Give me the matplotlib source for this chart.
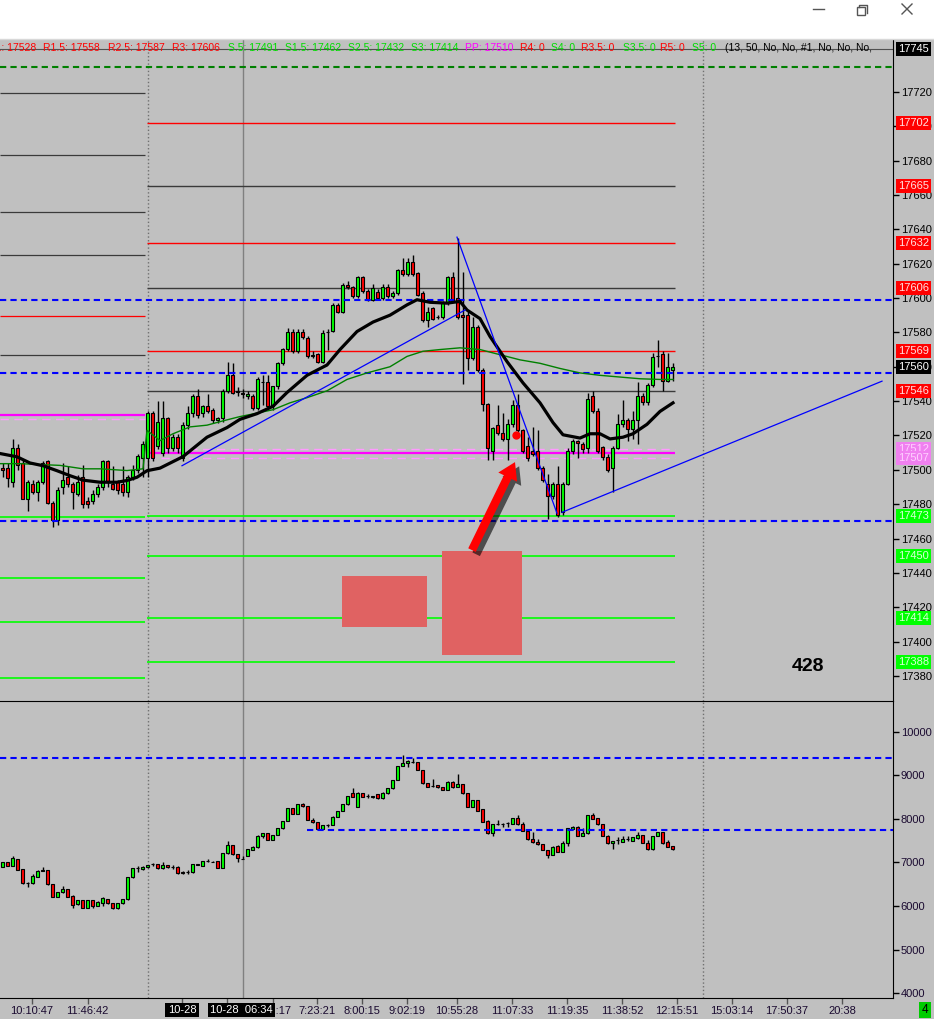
import matplotlib
matplotlib.use('Agg')
import matplotlib.pyplot as plt
from matplotlib.patches import Rectangle
from matplotlib.lines import Line2D
import matplotlib.patheffects as pe
import numpy as np

plt.rcParams['font.family'] = ['Liberation Sans', 'DejaVu Sans']

BG = '#c0c0c0'
W, H = 934, 1019

# ---- main panel candles (price) ----
m_open = [17501, 17501, 17493, 17513, 17504, 17483, 17492, 17487, 17493, 17505,
          17481, 17471, 17490, 17496, 17492, 17486, 17496, 17482, 17482, 17486,
          17490, 17505, 17492, 17493, 17492, 17487, 17496, 17500, 17507, 17507,
          17533, 17514, 17510, 17530, 17513, 17519, 17507, 17526, 17533, 17543,
          17533, 17537, 17535, 17529, 17530, 17546, 17555, 17546, 17545, 17543,
          17543, 17536, 17551, 17551, 17537, 17549, 17562, 17570.5, 17580.5, 17569,
          17580, 17577, 17567, 17567.5, 17563, 17580.5, 17581, 17596, 17592, 17607.5,
          17606.5, 17601, 17612, 17604, 17599, 17603.5, 17600, 17606.5, 17601, 17603,
          17616, 17614, 17621, 17614.5, 17603, 17587, 17594, 17589, 17589, 17597,
          17612, 17600, 17590, 17590, 17565, 17583, 17558, 17538.5, 17511, 17526,
          17521.5, 17518, 17526.5, 17537.5, 17523, 17514, 17511, 17511, 17501, 17492,
          17484.5, 17492, 17475.5, 17492, 17511, 17517, 17515, 17513, 17543, 17534.5,
          17513.5, 17507.5, 17501, 17513, 17526.5, 17529, 17523.5, 17529, 17543, 17539.5,
          17549.5, 17566.5, 17567.5, 17551.5, 17558]
m_high = [17504, 17504, 17518, 17515, 17506, 17494, 17494, 17494, 17505, 17506,
          17482, 17490, 17504, 17502, 17493, 17497, 17503, 17484, 17488, 17492,
          17506, 17506, 17502, 17494, 17502, 17497, 17503, 17509, 17517, 17534,
          17534, 17540, 17540, 17531, 17521, 17521, 17528, 17537, 17544, 17547,
          17538, 17544, 17536, 17531, 17547, 17563, 17562, 17548, 17547, 17546,
          17544, 17554, 17555, 17555, 17549, 17563, 17571, 17582.5, 17582, 17582,
          17582, 17578, 17569, 17568, 17581.5, 17582, 17597, 17597, 17609, 17610,
          17607, 17613, 17613, 17605, 17608, 17605, 17608, 17608, 17604, 17617,
          17623, 17623, 17625, 17615, 17604, 17595, 17595, 17590, 17598, 17613,
          17615, 17635, 17615, 17593, 17589, 17584, 17559, 17539, 17525, 17538,
          17533, 17529.5, 17540.5, 17544, 17524, 17519, 17525, 17523, 17502, 17497.5,
          17493, 17502.5, 17493, 17513, 17518, 17517.5, 17516, 17544.5, 17546, 17536,
          17514, 17509, 17514, 17532.5, 17540.5, 17530, 17534, 17551, 17545, 17550.5,
          17568, 17575.5, 17569, 17568, 17562]
m_low = [17496, 17490, 17490, 17500, 17483, 17476, 17486, 17482, 17492, 17480,
         17467, 17468, 17486, 17490, 17477, 17485, 17478, 17478, 17480, 17484,
         17488, 17490, 17488, 17486, 17485, 17484, 17494, 17498, 17496, 17496,
         17505, 17512, 17508, 17510, 17511, 17510, 17505, 17524, 17531, 17530,
         17531, 17533, 17527, 17527, 17528, 17545, 17544, 17543, 17542, 17541,
         17535, 17535, 17538, 17535, 17535, 17547, 17561, 17569, 17568, 17568,
         17576, 17565, 17565, 17562, 17562, 17570, 17580, 17591, 17591, 17605,
         17600, 17600, 17603, 17598, 17598, 17599, 17599, 17600, 17600, 17602,
         17613, 17613, 17613, 17601, 17586, 17583, 17587, 17588, 17588, 17596,
         17598, 17588, 17550, 17558, 17564, 17557, 17534, 17506, 17506, 17520,
         17517, 17506, 17525, 17522, 17510, 17505, 17508, 17500, 17493, 17471.5,
         17483, 17472.5, 17474, 17491, 17509, 17507, 17510, 17510, 17533, 17510,
         17506, 17499, 17487, 17512, 17525, 17517, 17518, 17515, 17538, 17538,
         17548, 17560, 17546, 17551, 17551.5]
m_close = [17500, 17495, 17513, 17503, 17483, 17493, 17487, 17493, 17504, 17481,
           17471, 17488, 17494, 17492, 17487, 17493, 17480, 17480, 17486, 17490,
           17505, 17493, 17489, 17488, 17487, 17496, 17500, 17508, 17515, 17533,
           17507, 17528, 17530, 17513, 17519, 17513, 17526, 17533, 17543, 17532,
           17537, 17534, 17529, 17530, 17546, 17555, 17545, 17545.5, 17544, 17544,
           17536, 17553, 17551, 17537, 17549, 17562, 17570.5, 17580.5, 17569, 17580.5,
           17577.5, 17566, 17566.5, 17563, 17579.5, 17580.5, 17596, 17592, 17607.5, 17606.5,
           17601, 17612, 17604, 17599, 17606, 17600, 17606.5, 17601, 17603, 17616,
           17614, 17621, 17614, 17602, 17587, 17592, 17588, 17589, 17597, 17612,
           17599, 17589, 17589, 17565, 17583, 17558, 17538.5, 17513, 17524.5, 17521.5,
           17518, 17526.5, 17537.5, 17523, 17511, 17507, 17509, 17501, 17494, 17484.5,
           17492, 17473.5, 17492, 17511, 17516.5, 17515.5, 17512, 17541.5, 17534.5, 17511,
           17507.5, 17500, 17513, 17526.5, 17529, 17523.5, 17529, 17543, 17539.5, 17549.5,
           17565.5, 17566.5, 17551.5, 17560, 17560]

# ---- lower panel candles ----
s_open = [6904, 7003, 6920, 7080, 6843, 6522, 6522, 6675, 6828, 6828,
          6499, 6216, 6315, 6392, 6239, 6040, 6140, 5964, 6140, 6010,
          6063, 6163, 6063, 5948, 6063, 6155, 6660, 6866, 6843, 6889,
          6965, 6958, 6866, 6942, 6904, 6904, 6790, 6774, 6774, 6965,
          6919, 7034, 7019, 7034, 6881, 7210, 7401, 7195, 7080, 7156,
          7286, 7347, 7615, 7669, 7516, 7631, 7784, 7952, 8242, 8112,
          8341, 8296, 7975, 7921, 7768, 7860, 7860, 8051, 8181, 8334,
          8586, 8280, 8586, 8525, 8495, 8571, 8472, 8586, 8701, 8892,
          9213, 9290, 9310, 9297, 9121, 8816, 8762, 8778, 8724, 8663,
          8854, 8739, 8800, 8586, 8280, 8433, 8219, 7952, 7669, 7875,
          7883, 7898, 7883, 8013, 7875, 7730, 7531, 7462, 7417, 7286,
          7172, 7378, 7248, 7439, 7768, 7822, 7615, 7669, 8089, 8013,
          7875, 7615, 7439, 7516, 7478, 7531, 7500, 7569, 7631, 7455,
          7302, 7608, 7692, 7462, 7378]
s_high = [7010, 7010, 7149, 7085, 6850, 6560, 6736, 6828, 6904, 6835,
          6505, 6320, 6460, 6398, 6245, 6148, 6146, 6146, 6146, 6108,
          6215, 6170, 6070, 6070, 6162, 6667, 6873, 6920, 6910, 6950,
          6995, 6964, 7019, 6948, 6942, 6910, 6796, 6828, 6971, 6971,
          7040, 7072, 7040, 7040, 7216, 7493, 7407, 7201, 7156, 7316,
          7369, 7621, 7675, 7675, 7637, 7790, 7958, 8248, 8248, 8347,
          8372, 8302, 8013, 7927, 7866, 7883, 8057, 8187, 8340, 8531,
          8701, 8607, 8592, 8570, 8531, 8577, 8607, 8707, 8898, 9219,
          9466, 9350, 9390, 9303, 9127, 8822, 8907, 8784, 8730, 8860,
          8877, 9030, 8806, 8592, 8439, 8439, 8225, 7975, 7881, 7975,
          7913, 7936, 8019, 8089, 7921, 7736, 7692, 7531, 7423, 7292,
          7369, 7401, 7493, 7789, 7828, 7828, 7784, 8095, 8127, 8019,
          7881, 7621, 7499, 7592, 7615, 7615, 7592, 7707, 7637, 7516,
          7614, 7698, 7698, 7516, 7384]
s_low = [6895, 6910, 6915, 6820, 6515, 6445, 6515, 6660, 6800, 6490,
         6210, 6210, 6310, 6210, 5964, 6035, 5958, 5958, 5950, 6005,
         6010, 6056, 5942, 5942, 6058, 6150, 6655, 6790, 6838, 6884,
         6920, 6860, 6860, 6883, 6843, 6745, 6745, 6728, 6768, 6936,
         6913, 7003, 7000, 6875, 6875, 7204, 7181, 7019, 7073, 7150,
         7280, 7341, 7554, 7510, 7510, 7625, 7778, 7946, 8106, 8106,
         8280, 7969, 7915, 7762, 7762, 7806, 7854, 8045, 8175, 8328,
         8504, 8274, 8504, 8490, 8489, 8466, 8466, 8580, 8695, 8886,
         9207, 9200, 9290, 9115, 8810, 8733, 8739, 8718, 8657, 8657,
         8718, 8733, 8580, 8274, 8274, 8175, 7930, 7663, 7615, 7860,
         7822, 7806, 7877, 7869, 7724, 7525, 7456, 7411, 7280, 7095,
         7166, 7242, 7242, 7378, 7762, 7609, 7609, 7663, 7991, 7869,
         7609, 7433, 7302, 7424, 7472, 7500, 7494, 7539, 7449, 7296,
         7296, 7602, 7433, 7357, 7296]
s_close = [7003, 6920, 7095, 6828, 6522, 6522, 6690, 6805, 6805, 6499,
           6216, 6315, 6392, 6216, 6025, 6140, 5964, 6140, 6010, 6101,
           6178, 6063, 5948, 6063, 6155, 6660, 6866, 6866, 6904, 6942,
           6965, 6866, 6942, 6889, 6904, 6751, 6751, 6774, 6965, 6942,
           7034, 7034, 7019, 6881, 7210, 7401, 7187, 7095, 7080, 7310,
           7363, 7615, 7669, 7516, 7631, 7784, 7952, 8242, 8112, 8341,
           8296, 7975, 7921, 7768, 7860, 7860, 8051, 8181, 8334, 8525,
           8510, 8601, 8510, 8525, 8525, 8472, 8601, 8701, 8892, 9213,
           9290, 9328, 9310, 9121, 8816, 8739, 8762, 8724, 8663, 8854,
           8724, 8800, 8586, 8280, 8433, 8181, 7936, 7669, 7875, 7875,
           7883, 7898, 8013, 7875, 7730, 7531, 7462, 7417, 7286, 7172,
           7363, 7248, 7439, 7783, 7822, 7615, 7669, 8089, 7997, 7875,
           7615, 7439, 7493, 7516, 7539, 7531, 7577, 7631, 7455, 7302,
           7608, 7692, 7439, 7363, 7302]

# ---- moving averages ----
ma_bars = [-0.5, 2.9, 5.5, 8.1, 10.9, 13.5, 16.1, 19.5, 22.9, 24.9, 26.9, 28.9,
           31.5, 36.1, 40.9, 44.9, 47.5, 50.9, 54.1, 56.9, 60.9, 64.9, 67.5, 70.9,
           74.1, 77.5, 80.9, 82.9, 85.5, 88.9, 91.5, 92.9, 95.5, 97.5, 100.9, 104.1,
           107.5, 110.1, 112.1, 115.5, 117.5, 119.5, 121.5, 124.1, 126.1, 128.9, 131.5, 134.1]
ma_vals = [17509.5, 17507.6, 17504, 17502.4, 17499.5, 17496.6, 17494, 17492.8, 17492.8,
           17493.8, 17495.7, 17499.5, 17501, 17507.7, 17519, 17524.6, 17529.4, 17532.7,
           17537, 17545, 17555, 17561, 17570, 17580.5, 17586, 17590, 17596, 17599,
           17597.5, 17597, 17598, 17593, 17588, 17577.6, 17563, 17550.6, 17539, 17527.5,
           17520.4, 17518.5, 17521, 17521, 17518, 17519, 17521, 17526.5, 17534, 17539]
g_bars = [-0.5, 3.5, 11.5, 16.1, 19.5, 24.9, 28.1, 28.9, 31.5, 34.1, 37.5, 40.9,
          44.1, 47.5, 50.9, 54.1, 57.5, 60.9, 64.9, 68.9, 72.9, 77.5, 80.9, 84.1,
          87.5, 91.5, 95.5, 99.5, 103.5, 107.5, 111.5, 115.5, 119.5, 123.5, 127.5, 131.5, 134.1]
g_vals = [17503.6, 17503.6, 17502.6, 17500.6, 17500.6, 17499.6, 17500.6, 17523, 17517,
          17521, 17525, 17526, 17528.5, 17531, 17533, 17535, 17539, 17542, 17546,
          17552.6, 17556.4, 17560, 17566, 17569, 17570, 17571, 17570, 17567, 17564,
          17562, 17559, 17556.4, 17555, 17554, 17553, 17552.6, 17552.6]

# ---- pivot levels ----
prev_levels = [17719, 17683, 17650, 17625, 17589.5, 17567]
prev_colors = ['#3a3a3a', '#3a3a3a', '#3a3a3a', '#3a3a3a', '#ff0000', '#3a3a3a']
prev_pp = 17532
prev_pp_band = 17529.5
prev_support = [17472.5, 17437, 17411.5, 17379]
res_levels = [17702, 17665, 17632, 17606, 17569, 17546]
res_colors = ['#ff0000', '#3a3a3a', '#ff0000', '#3a3a3a', '#ff0000', '#3a3a3a']
pp_level = 17510
pp_band = [17512, 17507]
sup_levels = [17473, 17450, 17414, 17388]
blue_dashed = [17598.8, 17556.3, 17470.2]
green_dashed = 17734.4
top_line = 17745
last_price = 17560

low_dashed_full = 9402
low_dashed_part = 7747

trend_lines = [([35.9, 92.5], [17502.4, 17593]),
               ([90.9, 110.9], [17635.4, 17474.7]),
               ([111.9, 175.9], [17475.3, 17551.6])]

boxes = [(67.9, 84.9, 17408.5, 17438.2), (87.9, 103.9, 17392.2, 17452.7)]

pivot_text = [('R1: 17528', 'r'), ('R1.5: 17558', 'r'), ('R2.5: 17587', 'r'), ('R3: 17606', 'r'),
              ('S.5: 17491', 's'), ('S1.5: 17462', 's'), ('S2.5: 17432', 's'), ('S3: 17414', 's'),
              ('PP: 17510', 'p'), ('R4: 0', 'r'), ('S4: 0', 's'), ('R3.5: 0', 'r'), ('S3.5: 0', 's'),
              ('R5: 0', 'r'), ('S5: 0', 's'), ('(13, 50, No, No, #1, No, No, No,', 'k')]
pivot_text_x = [-12, 43, 108, 172, 228, 285, 348, 411, 465, 520, 551, 581, 623, 660, 692, 725]

time_ticks = [5.9, 17.0, 35.9, 44.9, 54.1, 62.9, 71.9, 80.9, 90.9, 101.9, 112.9, 123.9,
              134.9, 145.9, 156.9, 167.9]
time_labels = ['10:10:47', '11:46:42', '', '', '6:52:17', '7:23:21', '8:00:15', '9:02:19',
               '10:55:28', '11:07:33', '11:19:35', '11:38:52', '12:15:51', '15:03:14',
               '17:50:37', '20:38']

colmap = {'r': '#ff0000', 's': '#00dd00', 'p': '#ff00ff', 'k': '#000000'}
FS = 8
FS_TOP = 7.5


def fx(px):
    return px / W


def fy(py):
    return 1 - py / H


def draw_candles(ax, o, h, l, c):
    o = np.array(o, float)
    h = np.array(h, float)
    l = np.array(l, float)
    c = np.array(c, float)
    x = np.arange(len(o))
    ax.vlines(x, l, h, color='black', lw=1, zorder=4)
    cols = np.where(c >= o, '#00ff00', '#ff0000')
    ax.bar(x, np.abs(c - o), bottom=np.minimum(o, c), width=0.62, color=cols,
           edgecolor='black', linewidth=0.8, zorder=5)


fig = plt.figure(figsize=(W / 100, H / 100), dpi=100, facecolor=BG)

main = fig.add_axes([0, fy(701), 893 / W, (701 - 39) / H], facecolor=BG)
low = fig.add_axes([0, fy(998), 893 / W, (998 - 701) / H], facecolor=BG)

XMIN, XMAX = -0.5, 178.1
LEFT_END, RIGHT_START, RIGHT_END = 28.5, 28.9, 134.5

# ---- main panel ----
main.set_xlim(XMIN, XMAX)
main.set_ylim(17365.5, 17750.7)

main.axhline(top_line, color='#505050', lw=0.8, zorder=1)
main.axhline(green_dashed, color='#008000', lw=1.5, ls=(0, (3, 2)), zorder=2)

for v, col in zip(prev_levels, prev_colors):
    main.hlines(v, XMIN, LEFT_END, color=col, lw=0.9, zorder=2)
main.hlines(prev_pp, XMIN, LEFT_END, color='#ff00ff', lw=1.6, zorder=2)
main.hlines(prev_pp_band, XMIN, LEFT_END, color='#ff99ff', lw=1, ls=(0, (6, 4)), zorder=2)
for v in prev_support:
    main.hlines(v, XMIN, LEFT_END, color='#00ff00', lw=1.2, zorder=2)

for v, col in zip(res_levels, res_colors):
    main.hlines(v, RIGHT_START, RIGHT_END, color=col, lw=1.0, zorder=2)
main.hlines(pp_level, RIGHT_START, RIGHT_END, color='#ff00ff', lw=1.6, zorder=2)
for v in pp_band:
    main.hlines(v, RIGHT_START, RIGHT_END, color='#ff99ff', lw=1, ls=(0, (6, 4)), zorder=2)
for v in sup_levels:
    main.hlines(v, RIGHT_START, RIGHT_END, color='#00ff00', lw=1.2, zorder=2)

for v in blue_dashed:
    main.axhline(v, color='#0000ff', lw=1.5, ls=(0, (3, 2)), zorder=6)

for xv, st, col in [(29, ':', '#707070'), (48, '-', '#808080'), (140, ':', '#707070')]:
    main.axvline(xv, color=col, lw=1, ls=st, zorder=1)
    low.axvline(xv, color=col, lw=1, ls=st, zorder=1)

for x0, x1, y0, y1 in boxes:
    main.add_patch(Rectangle((x0, y0), x1 - x0, y1 - y0, fc='#e06262', ec='none', zorder=3))

main.plot(g_bars, g_vals, color='#008000', lw=1, zorder=6)
draw_candles(main, m_open, m_high, m_low, m_close)
main.plot(ma_bars, ma_vals, color='black', lw=2.3, zorder=7)
for xs, ys in trend_lines:
    main.plot(xs, ys, color='#0000ff', lw=0.9, zorder=7)

main.plot([102.7], [17520], 'o', color='#ff0000', ms=5, zorder=8)
arr = main.annotate('', xy=(102.5, 17504.5), xytext=(93.9, 17453.3),
                    arrowprops=dict(arrowstyle='simple,head_length=1.2,head_width=1.5,tail_width=0.6',
                                    fc='#ff0000', ec='none', mutation_scale=10, shrinkA=0, shrinkB=0),
                    zorder=8)
arr.arrow_patch.set_path_effects([pe.SimplePatchShadow(offset=(3, -3), shadow_rgbFace='black', alpha=0.6),
                                  pe.Normal()])

main.text(161.1, 17385.3, '428', fontsize=14, fontweight='bold', ha='center', va='center', zorder=8)

# pivot text row (clipped to the panel)
for (s, k), px in zip(pivot_text, pivot_text_x):
    main.text(fx(px), fy(48), s, transform=fig.transFigure, color=colmap[k], fontsize=FS_TOP,
              ha='left', va='center', clip_on=True, zorder=9)

main.set_xticks([])
main.yaxis.tick_right()
main.set_yticks(np.arange(17380, 17721, 20))
main.tick_params(axis='y', direction='out', length=4, width=1, pad=1.5, labelsize=FS,
                 colors='black')
for s in ['top', 'left', 'bottom']:
    main.spines[s].set_visible(False)
main.spines['right'].set_color('black')

price_tags = [(top_line, 'black', 'white'), (17702, '#ff0000', '#ffe0e0'), (17665, '#ff0000', '#ffe0e0'),
              (17632, '#ff0000', '#ffe0e0'), (17606, '#ff0000', '#ffe0e0'), (17569, '#ff0000', '#ffe0e0'),
              (last_price, 'black', 'white'), (17546, '#ff0000', '#ffe0e0'),
              (17512, '#f080f0', '#ffd0ff'), (17507, '#f080f0', '#ffd0ff'),
              (17473, '#00ff00', '#d8ffd8'), (17450, '#00ff00', '#d8ffd8'),
              (17414, '#00ff00', '#d8ffd8'), (17388, '#00ff00', '#d8ffd8')]
for v, bg, tc in price_tags:
    main.annotate(f'{v}', xy=(1, v), xycoords=('axes fraction', 'data'), xytext=(5, 0),
                  textcoords='offset pixels', ha='left', va='center', fontsize=FS, color=tc,
                  bbox=dict(boxstyle='square,pad=0.18', fc=bg, ec='none'),
                  annotation_clip=False, zorder=10)

# ---- lower panel ----
low.set_xlim(XMIN, XMAX)
low.set_ylim(3891, 10704)
low.axhline(low_dashed_full, color='#0000ff', lw=1.5, ls=(0, (3, 2)), zorder=6)
low.hlines(low_dashed_part, 60.9, XMAX, color='#0000ff', lw=1.5, ls=(0, (3, 2)), zorder=6)
draw_candles(low, s_open, s_high, s_low, s_close)

low.yaxis.tick_right()
low.set_yticks(np.arange(4000, 10001, 1000))
low.tick_params(axis='y', direction='out', length=4, width=1, pad=1.5, labelsize=FS,
                colors='black', labelcolor='#1a0a30')
low.set_xticks(time_ticks)
low.set_xticklabels(time_labels)
low.tick_params(axis='x', direction='out', length=4, width=1, pad=2, labelsize=FS,
                colors='#555555', labelcolor='#1a0a30')
low.spines['left'].set_visible(False)
for s in ['top', 'right', 'bottom']:
    low.spines[s].set_color('black')

for xb, s in [(35.9, '10-28'), (47.8, '10-28  06:34')]:
    low.annotate(s, xy=(xb, 0), xycoords=('data', 'axes fraction'), xytext=(0, -12),
                 textcoords='offset pixels', ha='center', va='center', fontsize=FS, color='white',
                 bbox=dict(boxstyle='square,pad=0.2', fc='black', ec='none'),
                 annotation_clip=False, zorder=10)

# ---- window chrome ----
fig.add_artist(Rectangle((0, fy(39)), 1, 39 / H, transform=fig.transFigure, fc='white', ec='none', zorder=1))
fig.add_artist(Line2D([0, 1], [fy(39), fy(39)], transform=fig.transFigure, color='#d8d8d8', lw=1, zorder=2))
fig.add_artist(Rectangle((fx(893.5), 0), 1 - fx(893.5), (1019 - 999) / H, transform=fig.transFigure,
                         fc=BG, ec='none', zorder=2))
fig.add_artist(Line2D([fx(813), fx(824)], [fy(9), fy(9)], transform=fig.transFigure, color='#555555', lw=1))
fig.add_artist(Rectangle((fx(857), fy(15)), 8 / W, 8 / H, transform=fig.transFigure, fc='white',
                         ec='#555555', lw=1, zorder=3))
fig.add_artist(Line2D([fx(859), fx(859), fx(867), fx(867)], [fy(7), fy(5), fy(5), fy(13)],
                      transform=fig.transFigure, color='#555555', lw=1, zorder=3))
fig.add_artist(Line2D([fx(902), fx(912)], [fy(4), fy(14)], transform=fig.transFigure, color='#555555', lw=1))
fig.add_artist(Line2D([fx(902), fx(912)], [fy(14), fy(4)], transform=fig.transFigure, color='#555555', lw=1))
fig.text(fx(925), fy(1010), '4', ha='center', va='center', fontsize=8.5, color='black',
         bbox=dict(boxstyle='square,pad=0.2', fc='#00cc00', ec='none'), zorder=4)

fig.savefig('out.png', dpi=100, facecolor=BG)
